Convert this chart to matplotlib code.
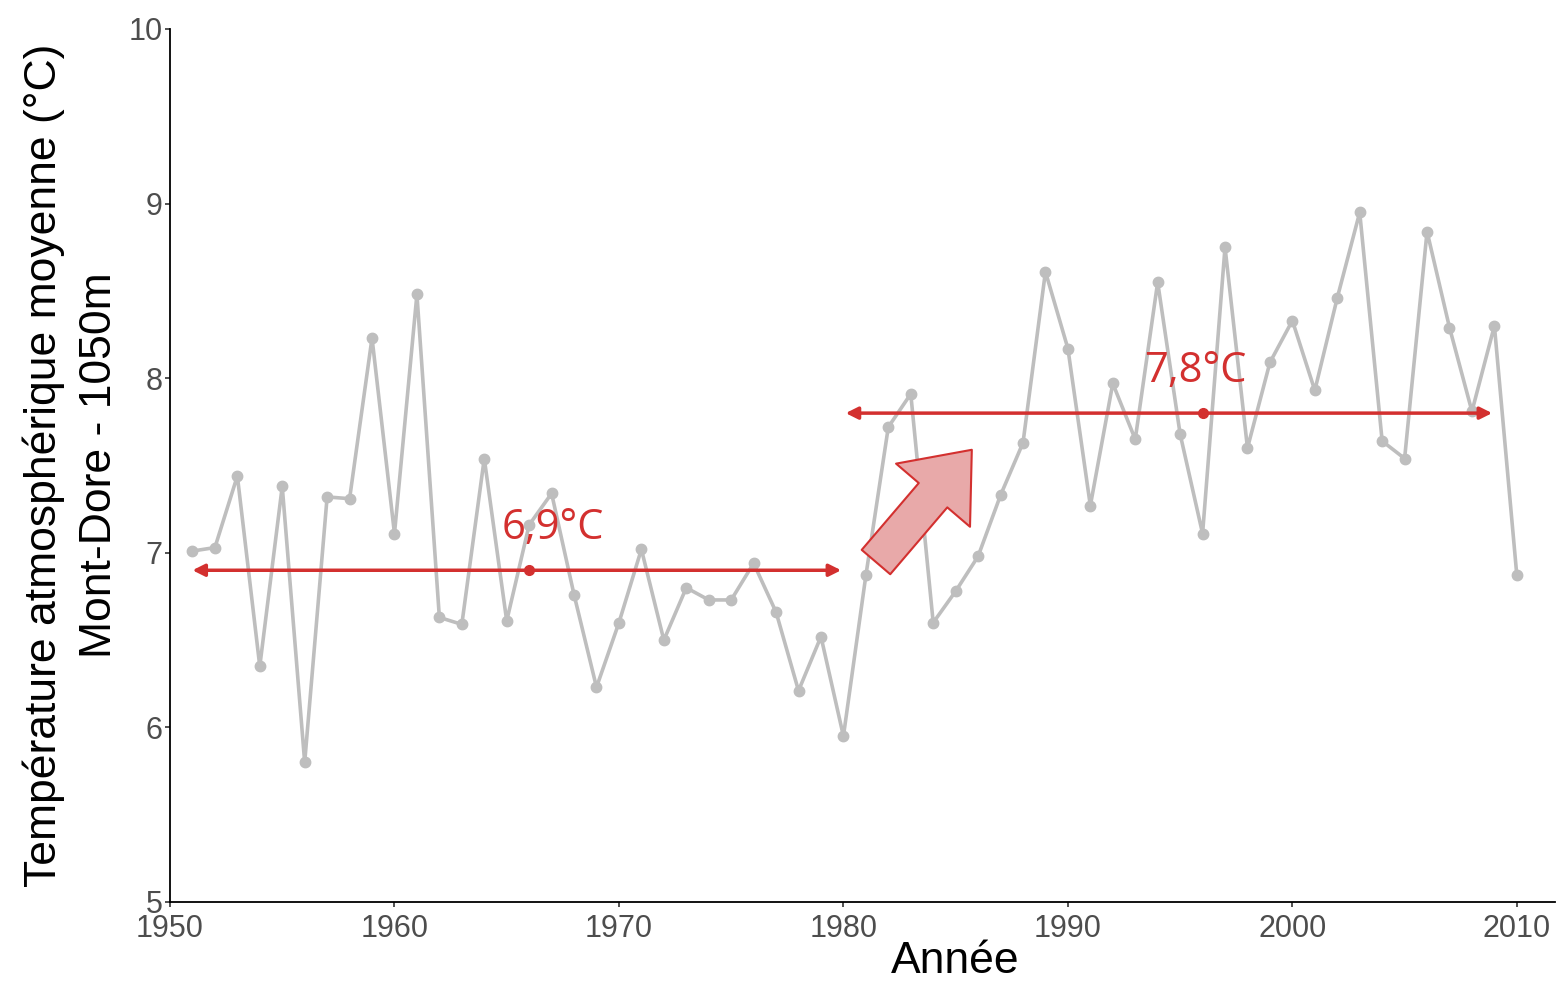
import matplotlib
matplotlib.use('Agg')
from matplotlib import pyplot as plt

# Annual mean temperature, Mont-Dore (1050m)
years = list(range(1951, 2011))
temps = [7.01, 7.03, 7.44, 6.35, 7.38, 5.80, 7.32, 7.31, 8.23, 7.11,
         8.48, 6.63, 6.59, 7.54, 6.61, 7.16, 7.34, 6.76, 6.23, 6.60,
         7.02, 6.50, 6.80, 6.73, 6.73, 6.94, 6.66, 6.21, 6.52, 5.95,
         6.87, 7.72, 7.91, 6.60, 6.78, 6.98, 7.33, 7.63, 8.61, 8.17,
         7.27, 7.97, 7.65, 8.55, 7.68, 7.11, 8.75, 7.60, 8.09, 8.33,
         7.93, 8.46, 8.95, 7.64, 7.54, 8.84, 8.29, 7.81, 8.30, 6.87]

# period means: (start, end, mean, year of mean dot, label, label x)
periods = [(1951, 1979.9, 6.9, 1966, '6,9°C', 1967.05),
           (1980.1, 2008.9, 7.8, 1996, '7,8°C', 1995.7)]

xticks = [1950, 1960, 1970, 1980, 1990, 2000, 2010]
yticks = [5, 6, 7, 8, 9, 10]

red = '#D3302F'
grey = '#BEBEBE'

fig = plt.figure(figsize=(15.57, 9.83), dpi=100)
ax = fig.add_axes([170 / 1557, 1 - 902 / 983, 1385 / 1557, 873 / 983])

ax.plot(years, temps, color=grey, lw=2.6, marker='o', ms=7.5, zorder=2)

for x0, x1, m, xm, lab, xl in periods:
    ax.annotate('', xy=(x0, m), xytext=(x1, m),
                arrowprops=dict(arrowstyle='<|-|>', color=red, lw=2.5,
                                mutation_scale=18, shrinkA=0, shrinkB=0),
                zorder=3)
    ax.plot([xm], [m], 'o', color=red, ms=7, zorder=4)
    ax.text(xl, m + 0.12, lab, color=red, fontsize=30,
            family='Open Sans', ha='center', va='bottom', zorder=4)

# big block arrow showing the warming
ax.annotate('', xy=(1985.72, 7.59), xytext=(1981.45, 6.947),
            arrowprops=dict(arrowstyle='simple,head_length=43,head_width=70,tail_width=27',
                            mutation_scale=1, shrinkA=0, shrinkB=0,
                            fc='#E8A9A9', ec=red, lw=1.5),
            zorder=3)

ax.set_xlim(1950, 2011.7)
ax.set_ylim(5, 10)
ax.set_xticks(xticks)
ax.set_yticks(yticks)

for s in ['top', 'right']:
    ax.spines[s].set_visible(False)
for s in ['left', 'bottom']:
    ax.spines[s].set_color('black')
    ax.spines[s].set_linewidth(1.3)

ax.tick_params(axis='both', length=3.5, width=1.2, color='#333333',
               labelsize=22, labelcolor='#4D4D4D', pad=2)
ax.tick_params(axis='x', pad=5)
for t in ax.get_xticklabels() + ax.get_yticklabels():
    t.set_family('Liberation Sans')

ax.set_xlabel('Année', fontsize=32, family='Liberation Sans', labelpad=-3)
ax.xaxis.set_label_coords((955 - 170) / 1385, -0.045)
ax.xaxis.label.set_va('top')
ax.set_ylabel('Température atmosphérique moyenne (°C)\nMont-Dore - 1050m',
              fontsize=32, family='Liberation Sans', labelpad=6,
              linespacing=1.42)

fig.savefig('out.png', dpi=100)
